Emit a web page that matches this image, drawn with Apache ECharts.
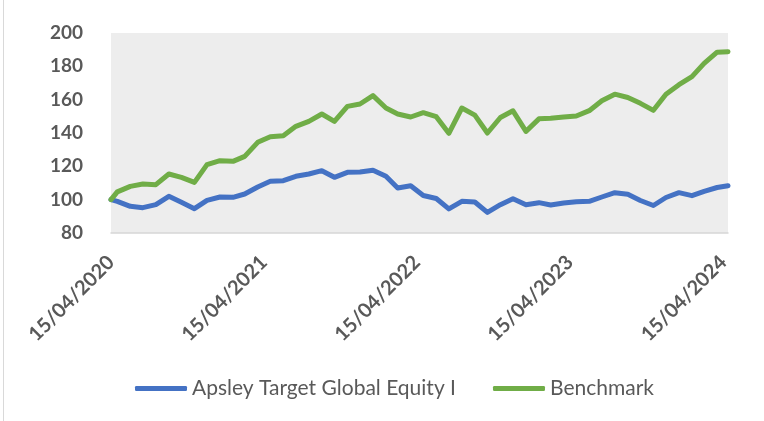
<!DOCTYPE html>
<html>
<head>
<meta charset="utf-8">
<script src="https://cdn.jsdelivr.net/npm/echarts@6/dist/echarts.min.js"></script>
<style>
html,body{margin:0;padding:0;background:#fff;}
#chart{width:764px;height:421px;}
</style>
</head>
<body>
<div id="chart"></div>
<script>
// Observation dates: start date, month-ends, final date
const startDate = '2020-04-15';
const endDate = '2024-04-26';
const monthEnds = [];
for (let k = 0; k < 48; k++) {
  const d = new Date(Date.UTC(2020, 3 + k + 1, 0));
  monthEnds.push(d.toISOString().slice(0, 10));
}
const dates = [startDate].concat(monthEnds, [endDate]);

const seriesNames = ['Apsley Target Global Equity I', 'Benchmark'];

const apsley = [
  100, 99.0, 96.0, 95.2, 97.0, 102.0, 98.4, 94.6, 99.6, 101.6,
  101.4, 103.4, 107.6, 111.0, 111.4, 114.0, 115.4, 117.4, 113.4, 116.4,
  116.6, 117.6, 114.0, 107.0, 108.4, 102.5, 100.7, 94.5, 99.0, 98.6,
  92.4, 97.0, 100.6, 97.0, 98.2, 96.8, 98.0, 98.8, 99.0, 101.6,
  104.2, 103.2, 99.5, 96.5, 101.3, 104.2, 102.4, 105.0, 107.3, 108.4
];

const benchmark = [
  100, 104.7, 108.0, 109.4, 109.0, 115.4, 113.4, 110.4, 121.0, 123.4,
  123.0, 126.0, 134.4, 137.8, 138.4, 144.0, 147.0, 151.4, 147.0, 156.0,
  157.4, 162.4, 155.0, 151.4, 149.6, 152.2, 149.8, 139.8, 155.0, 150.7,
  140.0, 149.3, 153.3, 141.0, 148.5, 148.8, 149.6, 150.2, 153.4, 159.3,
  163.3, 161.3, 157.8, 153.6, 163.3, 169.0, 173.8, 181.8, 188.5, 188.8
];

const xTickLabels = ['2020-04-15', '2021-04-15', '2022-04-15', '2023-04-15', '2024-04-15'];
const yTicks = [80, 100, 120, 140, 160, 180, 200];

const ts = s => Date.parse(s + 'T00:00:00Z');
const pad = n => (n < 10 ? '0' : '') + n;

const chart = echarts.init(document.getElementById('chart'), null, {renderer: 'canvas'});
chart.setOption({
  animation: false,
  backgroundColor: '#ffffff',
  textStyle: {fontFamily: 'Lato'},
  grid: {
    left: 111, right: 36, top: 33, bottom: 188,
    show: true, backgroundColor: '#ededed', borderWidth: 0
  },
  graphic: [{
    type: 'line', shape: {x1: 3.5, y1: 0, x2: 3.5, y2: 421},
    style: {stroke: '#d9d9d9', lineWidth: 1}, silent: true
  }],
  legend: {
    left: 130, top: 373,
    itemWidth: 52, itemHeight: 5, itemGap: 37,
    icon: 'roundRect',
    textStyle: {fontFamily: 'Lato', fontSize: 21, color: '#595959'},
    data: seriesNames
  },
  xAxis: {
    type: 'value',
    min: ts(startDate), max: ts(endDate),
    axisLine: {show: true, onZero: false, lineStyle: {color: '#d6d6d6', width: 1.5}},
    axisTick: {show: false},
    splitLine: {show: false},
    axisLabel: {
      customValues: xTickLabels.map(ts),
      rotate: 45, margin: 26,
      fontFamily: 'Lato', fontWeight: 'bold', fontSize: 20, color: '#595959',
      formatter: function (v) {
        const d = new Date(v);
        return pad(d.getUTCDate()) + '/' + pad(d.getUTCMonth() + 1) + '/' + d.getUTCFullYear();
      }
    }
  },
  yAxis: {
    type: 'value',
    min: yTicks[0], max: yTicks[yTicks.length - 1], interval: 20,
    axisLine: {show: false}, axisTick: {show: false}, splitLine: {show: false},
    axisLabel: {margin: 28, fontFamily: 'Lato', fontWeight: 'bold', fontSize: 19, color: '#595959'}
  },
  series: [
    {
      name: seriesNames[0], type: 'line', showSymbol: false, symbol: 'none',
      data: dates.map((d, i) => [ts(d), apsley[i]]),
      lineStyle: {color: '#4472c4', width: 5, cap: 'round', join: 'round'},
      itemStyle: {color: '#4472c4'}
    },
    {
      name: seriesNames[1], type: 'line', showSymbol: false, symbol: 'none',
      data: dates.map((d, i) => [ts(d), benchmark[i]]),
      lineStyle: {color: '#70ad47', width: 5, cap: 'round', join: 'round'},
      itemStyle: {color: '#70ad47'}
    }
  ]
});
</script>
</body>
</html>
